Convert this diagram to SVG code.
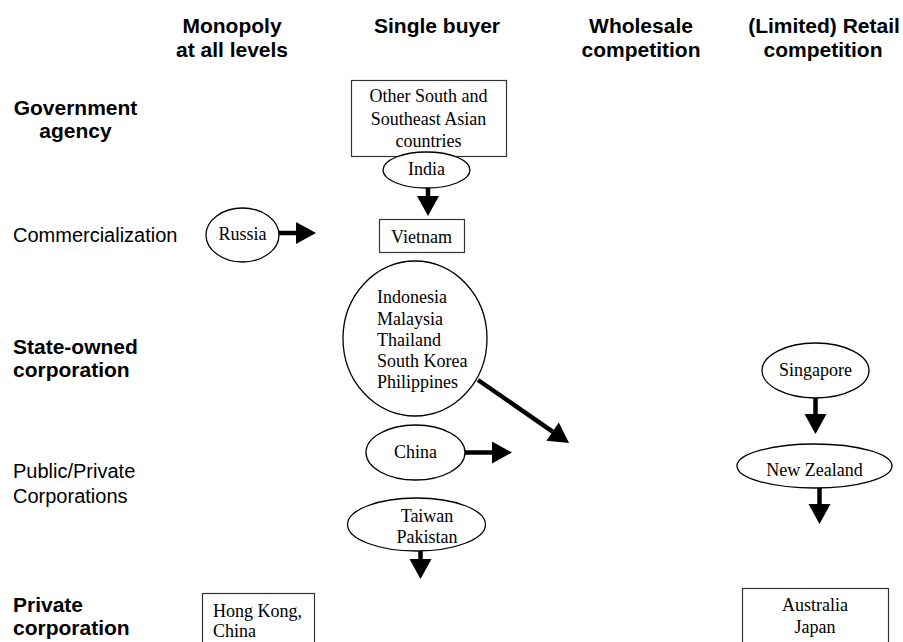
<svg xmlns="http://www.w3.org/2000/svg" width="903" height="642" viewBox="0 0 903 642">
<style>
.hb{font-family:"Liberation Sans",Arial,sans-serif;font-size:21px;font-weight:bold;fill:#000}
.hr{font-family:"Liberation Sans",Arial,sans-serif;font-size:20px;fill:#000}
.t{font-family:"Liberation Serif","Times New Roman",serif;font-size:18px;fill:#000}
.box{fill:#fff;stroke:#333;stroke-width:1.2}
.ell{fill:#fff;stroke:#000;stroke-width:1.3}
.arr{stroke:#000;stroke-width:4.5;fill:none;marker-end:url(#ah)}
</style>
<defs>
<marker id="ah" markerUnits="userSpaceOnUse" markerWidth="20" markerHeight="22" refX="0" refY="11" orient="auto" overflow="visible">
<path d="M0,0 L20,11 L0,22 z" fill="#000"/>
</marker>
</defs>
<rect width="903" height="642" fill="#fff"/>
<g id="headers">
<text class="hb" x="232" y="33" text-anchor="middle">Monopoly</text>
<text class="hb" x="232" y="57" text-anchor="middle">at all levels</text>
<text class="hb" x="437" y="33" text-anchor="middle">Single buyer</text>
<text class="hb" x="641" y="33" text-anchor="middle">Wholesale</text>
<text class="hb" x="641" y="57" text-anchor="middle">competition</text>
<text class="hb" x="824" y="33" text-anchor="middle">(Limited) Retail</text>
<text class="hb" x="823" y="57" text-anchor="middle">competition</text>
</g>
<g id="rows">
<text class="hb" x="75.5" y="115" text-anchor="middle">Government</text>
<text class="hb" x="75.5" y="138" text-anchor="middle">agency</text>
<text class="hr" x="13" y="242">Commercialization</text>
<text class="hb" x="13" y="354">State-owned</text>
<text class="hb" x="13" y="377">corporation</text>
<text class="hr" x="13" y="478">Public/Private</text>
<text class="hr" x="13" y="503">Corporations</text>
<text class="hb" x="13" y="612">Private</text>
<text class="hb" x="13" y="635">corporation</text>
</g>
<g id="connectors">
<line class="arr" x1="428" y1="188" x2="428" y2="196"/>
<line class="arr" x1="279" y1="233" x2="296" y2="233"/>
<line class="arr" x1="478" y1="380" x2="552.6" y2="431.6"/>
<line class="arr" x1="465" y1="452.5" x2="492" y2="452.5"/>
<line class="arr" x1="420.5" y1="551" x2="420.5" y2="559"/>
<line class="arr" x1="815.5" y1="398" x2="815.5" y2="414"/>
<line class="arr" x1="819.5" y1="488" x2="819.5" y2="504"/>
</g>
<g id="other-south">
<rect class="box" x="351.5" y="80.5" width="155" height="76"/>
<text class="t" x="428.5" y="102" text-anchor="middle">Other South and</text>
<text class="t" x="428.5" y="125" text-anchor="middle">Southeast Asian</text>
<text class="t" x="428.5" y="147" text-anchor="middle">countries</text>
</g>
<g id="india">
<ellipse class="ell" cx="426.5" cy="170" rx="43.5" ry="18"/>
<text class="t" x="426.5" y="175" text-anchor="middle">India</text>
</g>
<g id="russia">
<ellipse class="ell" cx="242.5" cy="235" rx="36.5" ry="27"/>
<text class="t" x="242.5" y="240" text-anchor="middle">Russia</text>
</g>
<g id="vietnam">
<rect class="box" x="379.5" y="219.5" width="85" height="33"/>
<text class="t" x="421.5" y="243" text-anchor="middle">Vietnam</text>
</g>
<g id="asean">
<ellipse class="ell" cx="415" cy="338.5" rx="72" ry="77.5"/>
<text class="t" x="377" y="303">Indonesia</text>
<text class="t" x="377" y="324.5">Malaysia</text>
<text class="t" x="377" y="346">Thailand</text>
<text class="t" x="377" y="367">South Korea</text>
<text class="t" x="377" y="388">Philippines</text>
</g>
<g id="china">
<ellipse class="ell" cx="415.5" cy="452.5" rx="49.5" ry="27.5"/>
<text class="t" x="415.5" y="457.5" text-anchor="middle">China</text>
</g>
<g id="taiwan-pakistan">
<ellipse class="ell" cx="416.5" cy="524.5" rx="69" ry="26.5"/>
<text class="t" x="427" y="522" text-anchor="middle">Taiwan</text>
<text class="t" x="427" y="543" text-anchor="middle">Pakistan</text>
</g>
<g id="hong-kong">
<rect class="box" x="202.5" y="593.5" width="112" height="60"/>
<text class="t" x="213" y="617">Hong Kong,</text>
<text class="t" x="213" y="637">China</text>
</g>
<g id="singapore">
<ellipse class="ell" cx="815.5" cy="370.5" rx="53.5" ry="27.5"/>
<text class="t" x="815.5" y="375.5" text-anchor="middle">Singapore</text>
</g>
<g id="new-zealand">
<ellipse class="ell" cx="814.5" cy="466" rx="77.5" ry="22"/>
<text class="t" x="814.5" y="476" text-anchor="middle">New Zealand</text>
</g>
<g id="australia-japan">
<rect class="box" x="742.5" y="588.5" width="146" height="70"/>
<text class="t" x="815" y="611" text-anchor="middle">Australia</text>
<text class="t" x="815" y="633" text-anchor="middle">Japan</text>
</g>
</svg>
